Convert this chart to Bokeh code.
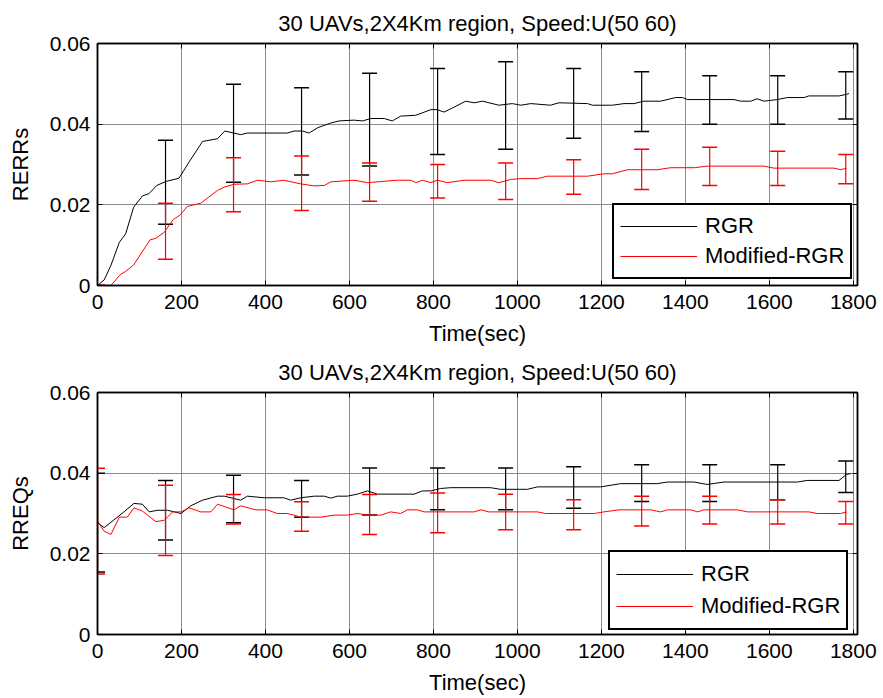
from bokeh.plotting import figure
from bokeh.models import Range1d, LinearAxis, FixedTicker, Legend, LegendItem, ColumnDataSource
from bokeh.layouts import column
from bokeh.embed import file_html
from bokeh.resources import INLINE

# ---------------- data ----------------
title_text = "30 UAVs,2X4Km region, Speed:U(50 60)"
x_label = "Time(sec)"
top_ylabel = "RERRs"
bot_ylabel = "RREQs"
series_names = ["RGR", "Modified-RGR"]

x_ticks = [0, 200, 400, 600, 800, 1000, 1200, 1400, 1600, 1800]
y_ticks = [0, 0.02, 0.04, 0.06]
y_tick_labels = ["0", "0.02", "0.04", "0.06"]

# top panel: RERRs
rerr_rgr_t = [0, 16, 32, 52, 67, 86, 107, 123, 141, 163, 194, 218, 250, 286, 303, 341, 357, 452, 468, 488,
              504, 524, 556, 575, 611, 631, 651, 683, 702, 722, 758, 794, 809, 825, 845, 877, 897, 917, 956,
              988, 1008, 1032, 1079, 1099, 1167, 1179, 1226, 1254, 1278, 1301, 1341, 1377, 1393, 1405, 1516,
              1532, 1556, 1571, 1587, 1619, 1643, 1683, 1694, 1766, 1784, 1790]
rerr_rgr_v = [0, 0.0014, 0.005, 0.0107, 0.0128, 0.0194, 0.0222, 0.0228, 0.0248, 0.0258, 0.0266, 0.0306, 0.0357,
              0.0364, 0.0383, 0.0374, 0.0378, 0.0378, 0.0383, 0.0383, 0.0378, 0.0391, 0.0403, 0.0408, 0.041,
              0.0408, 0.0414, 0.0414, 0.0408, 0.042, 0.0422, 0.0436, 0.0436, 0.043, 0.044, 0.0457, 0.0453,
              0.0457, 0.0447, 0.0451, 0.0447, 0.0451, 0.0447, 0.0453, 0.0451, 0.0447, 0.0447, 0.0451, 0.0451,
              0.0457, 0.0457, 0.0466, 0.0466, 0.0461, 0.0461, 0.0457, 0.0457, 0.0463, 0.0457, 0.0461, 0.0466,
              0.0466, 0.047, 0.047, 0.0474, 0.0476]
rerr_mod_t = [0, 32, 54, 67, 86, 125, 139, 159, 180, 197, 214, 246, 286, 302, 325, 357, 381, 413, 444, 484,
              516, 540, 556, 611, 643, 714, 746, 758, 774, 794, 809, 833, 873, 936, 956, 984, 1008, 1048, 1071,
              1167, 1206, 1226, 1262, 1333, 1365, 1421, 1452, 1587, 1611, 1754, 1770, 1784]
rerr_mod_v = [0, 0, 0.0027, 0.0035, 0.0051, 0.0113, 0.0117, 0.0132, 0.0163, 0.0175, 0.0196, 0.0204, 0.0236,
              0.0244, 0.0251, 0.0252, 0.0261, 0.0257, 0.0261, 0.0252, 0.0247, 0.0248, 0.0257, 0.0261, 0.0255,
              0.0261, 0.0261, 0.0255, 0.0261, 0.0255, 0.0261, 0.0255, 0.0261, 0.0261, 0.0255, 0.0263, 0.0265,
              0.0265, 0.0271, 0.0271, 0.0277, 0.0277, 0.0287, 0.0287, 0.0292, 0.0292, 0.0296, 0.0296, 0.0291,
              0.0291, 0.0287, 0.0291]

err_t = [0, 162, 324, 486, 648, 810, 972, 1134, 1296, 1458, 1620, 1782]
rerr_rgr_lo = [0, 0.0152, 0.0256, 0.0274, 0.0296, 0.0325, 0.0338, 0.0365, 0.0382, 0.040, 0.040, 0.0413]
rerr_rgr_hi = [0, 0.036, 0.0499, 0.049, 0.0526, 0.0538, 0.0555, 0.0538, 0.053, 0.052, 0.052, 0.053]
rerr_mod_lo = [0, 0.0065, 0.0183, 0.0186, 0.0209, 0.0217, 0.0213, 0.0226, 0.0238, 0.0248, 0.0248, 0.0252]
rerr_mod_hi = [0, 0.0204, 0.0317, 0.0321, 0.0304, 0.030, 0.0304, 0.0312, 0.0338, 0.0343, 0.0333, 0.0325]

# bottom panel: RREQs
rreq_rgr_t = [0, 16, 56, 87, 107, 123, 143, 167, 199, 222, 250, 286, 302, 341, 357, 397, 444, 460, 484, 516,
              540, 556, 571, 595, 619, 643, 667, 754, 774, 794, 817, 841, 936, 960, 1024, 1048, 1198, 1246,
              1333, 1357, 1421, 1452, 1492, 1667, 1690, 1766, 1784, 1794]
rreq_rgr_v = [0.0277, 0.0265, 0.0298, 0.0325, 0.0323, 0.0304, 0.0308, 0.0308, 0.03, 0.0319, 0.0333, 0.0343,
              0.0343, 0.0333, 0.0343, 0.0339, 0.0339, 0.0333, 0.0339, 0.0343, 0.0343, 0.0338, 0.0343, 0.0343,
              0.0348, 0.0356, 0.0348, 0.0348, 0.0356, 0.0356, 0.0362, 0.0364, 0.0364, 0.036, 0.036, 0.0366,
              0.0366, 0.0374, 0.0374, 0.0378, 0.0378, 0.0372, 0.0378, 0.0378, 0.0382, 0.0382, 0.0397, 0.0399]
rreq_mod_t = [0, 16, 32, 52, 71, 87, 107, 139, 159, 179, 199, 218, 246, 270, 286, 325, 341, 377, 404, 428,
              452, 468, 484, 532, 563, 595, 619, 643, 675, 698, 722, 738, 762, 778, 897, 913, 932, 1048, 1067,
              1183, 1206, 1242, 1317, 1341, 1357, 1413, 1429, 1444, 1524, 1548, 1694, 1714, 1770, 1784]
rreq_mod_v = [0.0281, 0.0256, 0.0248, 0.0291, 0.0291, 0.0314, 0.0306, 0.028, 0.0283, 0.0304, 0.0304, 0.0314,
              0.0304, 0.0304, 0.0323, 0.0309, 0.0319, 0.0309, 0.0309, 0.03, 0.03, 0.0296, 0.0291, 0.0291,
              0.0296, 0.0296, 0.03, 0.0296, 0.0296, 0.0304, 0.03, 0.0309, 0.0309, 0.0304, 0.0304, 0.0309,
              0.0304, 0.0304, 0.03, 0.03, 0.0304, 0.0309, 0.0309, 0.0304, 0.0309, 0.0309, 0.0304, 0.0309,
              0.0309, 0.0304, 0.0304, 0.03, 0.03, 0.0304]
rreq_rgr_lo = [0.0155, 0.0234, 0.0277, 0.0291, 0.0296, 0.0309, 0.0309, 0.0313, 0.033, 0.033, 0.0334, 0.0352]
rreq_rgr_hi = [0.040, 0.0382, 0.0395, 0.0382, 0.0413, 0.0413, 0.0413, 0.0416, 0.0421, 0.0421, 0.0421, 0.043]
rreq_mod_lo = [0.015, 0.0196, 0.0274, 0.0256, 0.0248, 0.0252, 0.026, 0.026, 0.0269, 0.0274, 0.0274, 0.0274]
rreq_mod_hi = [0.0412, 0.037, 0.0347, 0.0329, 0.0347, 0.0351, 0.0348, 0.0334, 0.0343, 0.0343, 0.0334, 0.033]

FONT = "Liberation Sans"
BLACK = "#000000"
RED = "#ff0000"
GRID = "#8c8c8c"


def style_axis(ax, labels=True):
    ax.axis_line_color = "black"
    ax.axis_line_width = 1.5
    ax.major_tick_in = 5
    ax.major_tick_out = 0
    ax.minor_tick_line_color = None
    ax.major_tick_line_color = "black"
    ax.major_label_text_font = FONT
    if labels:
        ax.major_label_text_font_size = "21px"
        ax.major_label_text_color = "black"
    else:
        ax.major_label_text_font_size = "1px"
        ax.major_label_text_color = None
        ax.major_label_standoff = 0
    ax.axis_label_text_font = FONT
    ax.axis_label_text_font_size = "22px"
    ax.axis_label_text_font_style = "normal"
    ax.axis_label_text_color = "black"


def make_panel(ylabel, b_t, b_v, r_t, r_v, b_lo, b_hi, r_lo, r_hi, leg_loc, leg_row):
    p = figure(width=883, height=349, output_backend="svg", toolbar_location=None,
               x_range=Range1d(0, 1810), y_range=Range1d(0, 0.06),
               min_border_left=97, min_border_right=26, min_border_top=43, min_border_bottom=64)
    p.title.text = title_text
    p.title.text_font = FONT
    p.title.text_font_size = "22px"
    p.title.text_font_style = "normal"
    p.title.text_color = "black"
    p.title.align = "center"
    p.title.standoff = 16
    p.background_fill_color = "white"
    p.border_fill_color = "white"
    p.outline_line_color = "black"
    p.outline_line_width = 1.5

    xt = FixedTicker(ticks=x_ticks)
    yt = FixedTicker(ticks=y_ticks)
    overrides = {v: s for v, s in zip(y_ticks, y_tick_labels)}

    xa = p.xaxis[0]
    xa.ticker = xt
    style_axis(xa)
    xa.axis_label = x_label
    xa.major_label_standoff = 9
    xa.axis_label_standoff = 9

    ya = p.yaxis[0]
    ya.ticker = yt
    style_axis(ya)
    ya.major_label_overrides = overrides
    ya.axis_label = ylabel
    ya.major_label_standoff = 7
    ya.axis_label_standoff = 14

    top = LinearAxis(ticker=FixedTicker(ticks=x_ticks))
    style_axis(top, labels=False)
    p.add_layout(top, "above")
    right = LinearAxis(ticker=FixedTicker(ticks=y_ticks))
    style_axis(right, labels=False)
    p.add_layout(right, "right")

    p.xgrid.ticker = xt
    p.ygrid.ticker = yt
    for g in (p.xgrid[0], p.ygrid[0]):
        g.grid_line_color = GRID
        g.grid_line_width = 1

    # RGR series
    rb = p.line(b_t, b_v, line_color=BLACK, line_width=1)
    sb = ColumnDataSource(dict(x=err_t, lo=b_lo, hi=b_hi))
    p.segment(x0="x", y0="lo", x1="x", y1="hi", source=sb, line_color=BLACK, line_width=1.2)
    p.scatter(x="x", y="lo", source=sb, marker="dash", size=15, line_color=BLACK, line_width=1.5)
    p.scatter(x="x", y="hi", source=sb, marker="dash", size=15, line_color=BLACK, line_width=1.5)

    # Modified-RGR series
    rr = p.line(r_t, r_v, line_color=RED, line_width=1)
    sr = ColumnDataSource(dict(x=err_t, lo=r_lo, hi=r_hi))
    p.segment(x0="x", y0="lo", x1="x", y1="hi", source=sr, line_color=RED, line_width=1.2)
    p.scatter(x="x", y="lo", source=sr, marker="dash", size=15, line_color=RED, line_width=1.5)
    p.scatter(x="x", y="hi", source=sr, marker="dash", size=15, line_color=RED, line_width=1.5)

    legend = Legend(items=[LegendItem(label=series_names[0], renderers=[rb]),
                           LegendItem(label=series_names[1], renderers=[rr])],
                    location=leg_loc)
    legend.label_text_font = FONT
    legend.label_text_font_size = "22px"
    legend.label_text_color = "black"
    legend.glyph_width = 77
    legend.glyph_height = leg_row
    legend.label_height = leg_row
    legend.spacing = 0
    legend.padding = 6
    legend.margin = 0
    legend.label_standoff = 8
    legend.border_line_color = "black"
    legend.border_line_width = 2
    legend.border_line_alpha = 1
    legend.background_fill_color = "white"
    legend.background_fill_alpha = 1
    p.add_layout(legend)
    return p


p1 = make_panel(top_ylabel, rerr_rgr_t, rerr_rgr_v, rerr_mod_t, rerr_mod_v,
                rerr_rgr_lo, rerr_rgr_hi, rerr_mod_lo, rerr_mod_hi, (515, 6), 30)
p2 = make_panel(bot_ylabel, rreq_rgr_t, rreq_rgr_v, rreq_mod_t, rreq_mod_v,
                rreq_rgr_lo, rreq_rgr_hi, rreq_mod_lo, rreq_mod_hi, (511, 4), 32)

layout = column(p1, p2, spacing=0)
open("out.html", "w").write(file_html(layout, INLINE))
